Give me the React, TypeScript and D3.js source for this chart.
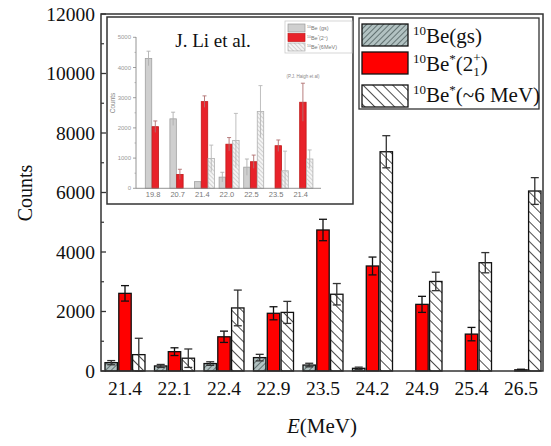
import React from "react";
import * as d3 from "d3";

const categories = ["21.4", "22.1", "22.4", "22.9", "23.5", "24.2", "24.9", "25.4", "26.5"];
const gsValues = [280, 170, 250, 450, 200, 90, 0, 0, 0];
const gsErrors = [70, 50, 60, 110, 60, 40, 0, 0, 0];
const exValues = [2610, 650, 1150, 1940, 4740, 3530, 2240, 1240, 40];
const exErrors = [260, 130, 190, 220, 360, 300, 270, 225, 20];
const sixValues = [550, 430, 2120, 1970, 2580, 7370, 3010, 3640, 6050];
const sixErrors = [550, 310, 600, 370, 360, 540, 310, 340, 450];
const yTicks = [0, 2000, 4000, 6000, 8000, 10000, 12000];

const insetCategories = ["19.8", "20.7", "21.4", "22.0", "22.5", "23.5", "21.4"];
const insetGs = [4300, 2300, 220, 370, 700, 0, 0];
const insetGsErr = [240, 220, 0, 160, 270, 0, 0];
const insetEx = [2040, 460, 2870, 1460, 880, 1410, 2850];
const insetExErr = [190, 170, 190, 220, 220, 190, 630];
const insetSix = [0, 0, 990, 1580, 2540, 580, 970];
const insetSixErr = [0, 0, 440, 900, 860, 650, 300];
const insetYTicks = [0, 1000, 2000, 3000, 4000, 5000];

const serif = "Liberation Serif, Tinos, Times New Roman, DejaVu Serif, serif";
const sans = "Liberation Sans, Arial, sans-serif";

export default function App() {
  const left = 101, right = 543, top = 14, bottom = 371;
  const y = d3.scaleLinear().domain([0, 12000]).range([bottom, top]);
  const x = d3.scalePoint<string>().domain(categories).range([125, 521]);
  const sub = d3.scaleBand<number>().domain([0, 1, 2]).range([-20, 20]).paddingInner(0.1);
  const bw = sub.bandwidth();
  const minorTicks = d3.range(1000, 12000, 2000);

  const iy = d3.scaleLinear().domain([0, 5000]).range([188.3, 37.3]);
  const idx = insetCategories.map((_, i) => i);
  const ix = d3.scalePoint<number>().domain(idx).range([155.3, 302.9]);
  const isub = d3.scaleBand<number>().domain([0, 1, 2]).range([-10, 10]).paddingInner(0.05);
  const ibw = isub.bandwidth();
  const iMinor = d3.range(500, 5000, 1000);

  const series = [
    { vals: gsValues, errs: gsErrors, fill: "url(#gsPat)", err: "#333" },
    { vals: exValues, errs: exErrors, fill: "#ff0000", err: "#111" },
    { vals: sixValues, errs: sixErrors, fill: "url(#sixPat)", err: "#333" },
  ];
  const iseries = [
    { vals: insetGs, errs: insetGsErr, fill: "#cfcfcf", stroke: "#a0a0a0", err: "#b0b0b0" },
    { vals: insetEx, errs: insetExErr, fill: "#e8222a", stroke: "#c01818", err: "#b07070" },
    { vals: insetSix, errs: insetSixErr, fill: "url(#iSixPat)", stroke: "#b0b0b0", err: "#b8b8b8" },
  ];

  return (
    <svg width={551} height={446} style={{ position: "absolute", left: 0, top: 0, background: "#fff" }}>
      <defs>
        <pattern id="gsPat" width={4} height={4} patternUnits="userSpaceOnUse" patternTransform="rotate(45)">
          <rect width={4} height={4} fill="#b2c2c2" />
          <line x1={0} y1={0} x2={0} y2={4} stroke="#2e3d3d" strokeWidth={1.2} />
        </pattern>
        <pattern id="sixPat" width={7} height={7} patternUnits="userSpaceOnUse" patternTransform="rotate(-45)">
          <rect width={7} height={7} fill="#fff" />
          <line x1={0} y1={0} x2={0} y2={7} stroke="#000" strokeWidth={1.4} />
        </pattern>
        <pattern id="iSixPat" width={3} height={3} patternUnits="userSpaceOnUse" patternTransform="rotate(-45)">
          <rect width={3} height={3} fill="#f4f4f4" />
          <line x1={0} y1={0} x2={0} y2={3} stroke="#a8a8a8" strokeWidth={0.9} />
        </pattern>
      </defs>

      {series.map((s, si) =>
        categories.map((c, i) => {
          const v = s.vals[i];
          if (!v) return null;
          const x0 = (x(c) as number) + (sub(si) as number);
          return (
            <rect key={`b${si}-${i}`} x={x0} y={y(v)} width={bw} height={bottom - y(v)}
              fill={s.fill} stroke="#111" strokeWidth={1.3} />
          );
        })
      )}
      {series.map((s, si) =>
        categories.map((c, i) => {
          const v = s.vals[i];
          const e = s.errs[i];
          if (!v || !e) return null;
          const cx = (x(c) as number) + (sub(si) as number) + bw / 2;
          const y1 = y(v + e), y2 = y(Math.max(0, v - e));
          return (
            <g key={`e${si}-${i}`} stroke={s.err} strokeWidth={1.3}>
              <line x1={cx} x2={cx} y1={y1} y2={y2} />
              <line x1={cx - 4} x2={cx + 4} y1={y1} y2={y1} />
              <line x1={cx - 4} x2={cx + 4} y1={y2} y2={y2} />
            </g>
          );
        })
      )}

      <rect x={left} y={top} width={right - left} height={bottom - top} fill="none" stroke="#333" strokeWidth={1.5} />
      {yTicks.map((t) => (
        <g key={`yt${t}`}>
          <line x1={left} x2={left + 5} y1={y(t)} y2={y(t)} stroke="#333" strokeWidth={1.3} />
          <text x={95} y={y(t)} dy="0.35em" textAnchor="end" style={{ fontFamily: serif }} fontSize={19.5} fill="#111">{t}</text>
        </g>
      ))}
      {minorTicks.map((t) => (
        <line key={`mt${t}`} x1={left} x2={left + 3} y1={y(t)} y2={y(t)} stroke="#333" strokeWidth={1.2} />
      ))}
      {categories.map((c) => (
        <text key={`xl${c}`} x={x(c)} y={395} textAnchor="middle" style={{ fontFamily: serif }} fontSize={19.5} fill="#111">{c}</text>
      ))}
      <text x={322} y={433} textAnchor="middle" style={{ fontFamily: serif }} fontSize={21} fill="#111">
        <tspan fontStyle="italic">E</tspan>(MeV)
      </text>
      <text transform="translate(32,193) rotate(-90)" textAnchor="middle" style={{ fontFamily: serif }} fontSize={20} fill="#111">Counts</text>

      <rect x={359} y={18} width={180} height={91} fill="#fff" stroke="#333" strokeWidth={1.3} />
      <rect x={362} y={24} width={46} height={22} fill="url(#gsPat)" stroke="#111" strokeWidth={1.3} />
      <rect x={362} y={52} width={46} height={22} fill="#ff0000" stroke="#111" strokeWidth={1.3} />
      <rect x={362} y={85} width={46} height={22} fill="url(#sixPat)" stroke="#111" strokeWidth={1.3} />
      <text x={413} y={42.5} style={{ fontFamily: serif }} fontSize={21} fill="#111">
        <tspan fontSize={13} dy={-8}>10</tspan>
        <tspan dy={8}>Be(gs)</tspan>
      </text>
      <text x={413} y={71} style={{ fontFamily: serif }} fontSize={21} fill="#111">
        <tspan fontSize={13} dy={-8}>10</tspan>
        <tspan dy={8}>Be</tspan>
        <tspan fontSize={13} dy={-8}>*</tspan>
        <tspan dy={8}>(2</tspan>
        <tspan fontSize={13} dy={-9}>+</tspan>
        <tspan fontSize={13} dx={-7.3} dy={14}>1</tspan>
        <tspan dx={1} dy={-5}>)</tspan>
      </text>
      <text x={413} y={101.5} style={{ fontFamily: serif }} fontSize={21} fill="#111">
        <tspan fontSize={13} dy={-8}>10</tspan>
        <tspan dy={8}>Be</tspan>
        <tspan fontSize={13} dy={-8}>*</tspan>
        <tspan dy={8}>(~6 MeV)</tspan>
      </text>

      <rect x={107} y={17} width={246} height={187} fill="#fff" stroke="#333" strokeWidth={1.5} />
      {iseries.map((s, si) =>
        idx.map((i) => {
          const v = s.vals[i];
          if (!v) return null;
          const x0 = (ix(i) as number) + (isub(si) as number);
          return (
            <rect key={`ib${si}-${i}`} x={x0} y={iy(v)} width={ibw} height={188.3 - iy(v)}
              fill={s.fill} stroke={s.stroke} strokeWidth={0.8} />
          );
        })
      )}
      {iseries.map((s, si) =>
        idx.map((i) => {
          const v = s.vals[i];
          const e = s.errs[i];
          if (!v || !e) return null;
          const cx = (ix(i) as number) + (isub(si) as number) + ibw / 2;
          const y1 = iy(v + e), y2 = iy(Math.max(0, v - e));
          return (
            <g key={`ie${si}-${i}`} stroke={s.err} strokeWidth={0.9}>
              <line x1={cx} x2={cx} y1={y1} y2={y2} />
              <line x1={cx - 2} x2={cx + 2} y1={y1} y2={y1} />
            </g>
          );
        })
      )}
      <line x1={136} x2={136} y1={37} y2={188.3} stroke="#888" strokeWidth={0.9} />
      <line x1={136} x2={321} y1={188.3} y2={188.3} stroke="#888" strokeWidth={0.9} />
      {insetYTicks.map((t) => (
        <g key={`iyt${t}`}>
          <line x1={133} x2={136} y1={iy(t)} y2={iy(t)} stroke="#888" strokeWidth={0.8} />
          <text x={131} y={iy(t)} dy="0.35em" textAnchor="end" style={{ fontFamily: sans }} fontSize={6} fill="#999">{t}</text>
        </g>
      ))}
      {iMinor.map((t) => (
        <line key={`imt${t}`} x1={134.5} x2={136} y1={iy(t)} y2={iy(t)} stroke="#999" strokeWidth={0.7} />
      ))}
      {idx.map((i) => (
        <text key={`ixl${i}`} x={(ix(i) as number) - 2.2} y={196.5} textAnchor="middle" style={{ fontFamily: sans }} fontSize={7.5} fill="#777">
          {insetCategories[i]}
        </text>
      ))}
      <text transform="translate(114.5,103) rotate(-90)" textAnchor="middle" style={{ fontFamily: sans }} fontSize={6.5} fill="#888">Counts</text>
      <text x={213} y={47} textAnchor="middle" style={{ fontFamily: serif }} fontSize={19} fill="#111">J. Li et al.</text>
      <text x={303} y={78} textAnchor="middle" style={{ fontFamily: sans }} fontSize={4.5} fill="#888">(P.J. Haigh et al)</text>

      <rect x={285} y={21} width={67} height={32} fill="#fff" stroke="#ccc" strokeWidth={0.8} />
      <rect x={288} y={24} width={17} height={8} fill="#cfcfcf" stroke="#999" strokeWidth={0.7} />
      <rect x={288} y={33.5} width={17} height={8} fill="#e8222a" stroke="#c01818" strokeWidth={0.7} />
      <rect x={288} y={43} width={17} height={8} fill="url(#iSixPat)" stroke="#aaa" strokeWidth={0.7} />
      <text x={307} y={30} style={{ fontFamily: sans }} fontSize={5.5} fill="#777">
        <tspan fontSize={3.5} dy={-2}>10</tspan><tspan dy={2}>Be (gs)</tspan>
      </text>
      <text x={307} y={39.5} style={{ fontFamily: sans }} fontSize={5.5} fill="#777">
        <tspan fontSize={3.5} dy={-2}>10</tspan><tspan dy={2}>Be</tspan><tspan fontSize={3.5} dy={-2}>*</tspan><tspan dy={2}>(2</tspan><tspan fontSize={3.5} dy={-2}>+</tspan><tspan dy={2}>)</tspan>
      </text>
      <text x={307} y={49} style={{ fontFamily: sans }} fontSize={5.5} fill="#777">
        <tspan fontSize={3.5} dy={-2}>10</tspan><tspan dy={2}>Be</tspan><tspan fontSize={3.5} dy={-2}>*</tspan><tspan dy={2}>(6MeV)</tspan>
      </text>
    </svg>
  );
}
